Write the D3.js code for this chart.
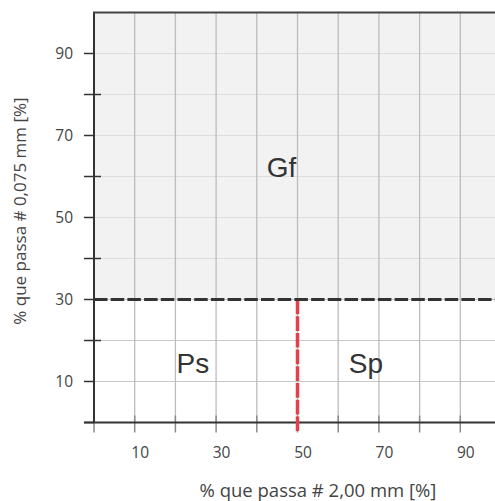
<!DOCTYPE html>
<html><head><meta charset="utf-8">
<script src="https://cdn.jsdelivr.net/npm/d3@7"></script>
<style>
html,body{margin:0;padding:0;background:#fff;}
svg{display:block;}
</style></head>
<body>
<svg id="chart" width="495" height="501"></svg>
<script>
// Data
const xTicks = [0,10,20,30,40,50,60,70,80,90,100];
const xTickLabels = [10,30,50,70,90];
const yTicks = [0,10,20,30,40,50,60,70,80,90,100];
const yTickLabels = [10,30,50,70,90];
const finesLimit = 30;        // % passing 0.075 mm boundary
const sandLimit = 50;         // % passing 2.00 mm boundary
const regionLabels = ["Gf","Ps","Sp"];
const regionX = [46.1, 24.3, 66.8];
const regionY = [60, 12, 12];
const xTitle = "% que passa # 2,00 mm [%]";
const yTitle = "% que passa # 0,075 mm [%]";

const svg = d3.select("#chart");
const x = d3.scaleLinear().domain([0,100]).range([94, 501]);
const y = d3.scaleLinear().domain([0,100]).range([422.5, 12.5]);

// upper shaded region
svg.append("rect")
  .attr("x", x(0)).attr("y", y(100))
  .attr("width", x(100)-x(0)).attr("height", y(finesLimit)-y(100))
  .attr("fill", "#f2f2f2");

// horizontal gridlines
svg.append("g").selectAll("line").data(yTicks.filter(d=>d>0 && d<100)).join("line")
  .attr("x1", x(0)).attr("x2", x(100))
  .attr("y1", d=>y(d)).attr("y2", d=>y(d))
  .attr("stroke", d => d>finesLimit ? "#dddddd" : "#c8c8c8")
  .attr("stroke-width", 1.2);

// vertical gridlines
svg.append("g").selectAll("line").data(xTicks.filter(d=>d>0 && d<100)).join("line")
  .attr("x1", d=>x(d)).attr("x2", d=>x(d))
  .attr("y1", y(100)).attr("y2", y(0))
  .attr("stroke", "#bcbcbc")
  .attr("stroke-width", 1.3);

// x ticks (gray, crossing axis)
svg.append("g").selectAll("line").data(xTicks.filter(d=>d<100)).join("line")
  .attr("x1", d=>x(d)).attr("x2", d=>x(d))
  .attr("y1", y(0)-7).attr("y2", y(0)+10)
  .attr("stroke", "#8a8a8a")
  .attr("stroke-width", 1.5);

// y ticks
svg.append("g").selectAll("line").data(yTicks.filter(d=>d<100)).join("line")
  .attr("x1", x(0)-10).attr("x2", d => (d%20===0 && d>0) ? x(0)+7 : x(0))
  .attr("y1", d=>y(d)).attr("y2", d=>y(d))
  .attr("stroke", "#333")
  .attr("stroke-width", 1.5);

// frame: left axis, top border, bottom axis
svg.append("line").attr("x1", x(0)).attr("x2", x(0)).attr("y1", y(100)).attr("y2", y(0))
  .attr("stroke", "#333").attr("stroke-width", 2);
svg.append("line").attr("x1", x(0)-1).attr("x2", x(100)).attr("y1", y(100)).attr("y2", y(100))
  .attr("stroke", "#444").attr("stroke-width", 2);
svg.append("line").attr("x1", x(0)-10).attr("x2", x(100)).attr("y1", y(0)).attr("y2", y(0))
  .attr("stroke", "#333").attr("stroke-width", 2);

// red dashed vertical boundary at 50
svg.append("line")
  .attr("x1", x(sandLimit)).attr("x2", x(sandLimit))
  .attr("y1", y(finesLimit)).attr("y2", y(0)+10)
  .attr("stroke", "#e2404a").attr("stroke-width", 3.5)
  .attr("stroke-dasharray", "14.7,2");

// black dashed horizontal boundary at 30
svg.append("line")
  .attr("x1", x(0)).attr("x2", x(100))
  .attr("y1", y(finesLimit)).attr("y2", y(finesLimit))
  .attr("stroke", "#333").attr("stroke-width", 3)
  .attr("stroke-dasharray", "13.5,3.2");

// tick labels
svg.append("g").selectAll("text").data(xTickLabels).join("text")
  .attr("x", d=>x(d)+5.5).attr("y", 458)
  .attr("text-anchor", "middle")
  .attr("font-family", "'Open Sans', sans-serif").attr("font-size", 15.5)
  .attr("fill", "#444").text(d=>d);
svg.append("g").selectAll("text").data(yTickLabels).join("text")
  .attr("x", 73).attr("y", d=>y(d)+5.5)
  .attr("text-anchor", "end")
  .attr("font-family", "'Open Sans', sans-serif").attr("font-size", 15.5)
  .attr("fill", "#444").text(d=>d);

// axis titles
svg.append("text").attr("x", 318).attr("y", 497)
  .attr("text-anchor", "middle")
  .attr("font-family", "'Open Sans', sans-serif").attr("font-size", 18.5)
  .attr("fill", "#444").text(xTitle);
svg.append("text").attr("transform", "translate(26,211) rotate(-90)")
  .attr("text-anchor", "middle")
  .attr("font-family", "'Open Sans', sans-serif").attr("font-size", 17)
  .attr("fill", "#444").text(yTitle);

// region labels
svg.append("g").selectAll("text").data(regionLabels).join("text")
  .attr("x", (d,i)=>x(regionX[i])).attr("y", (d,i)=>y(regionY[i]))
  .attr("text-anchor", "middle")
  .attr("font-family", "'Liberation Sans', Arial, sans-serif").attr("font-size", 28)
  .attr("fill", "#333").text(d=>d);
</script>
</body></html>
